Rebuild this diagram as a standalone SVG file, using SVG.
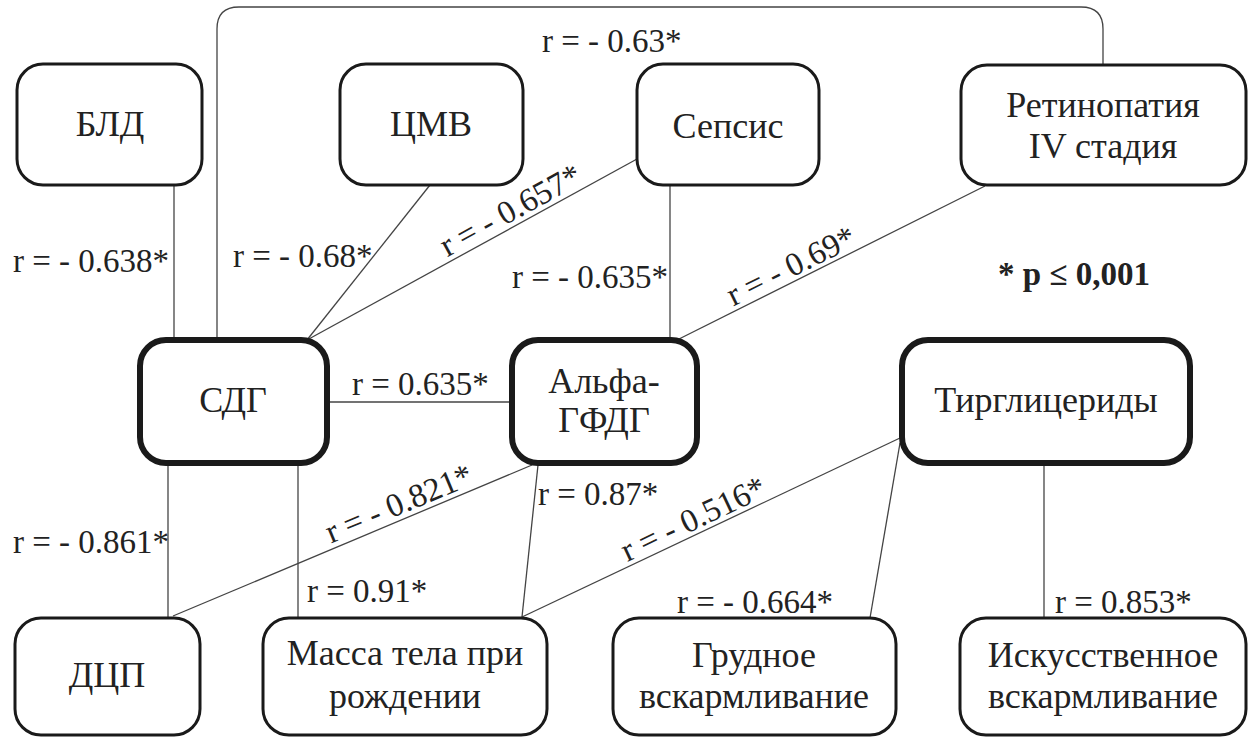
<svg xmlns="http://www.w3.org/2000/svg" width="1251" height="738" viewBox="0 0 1251 738">
<rect width="1251" height="738" fill="#fff"/>
<g id="connectors" stroke="#444" stroke-width="1.3" fill="none">
<path d="M217,340 V29 Q217,7 239,7 H1081 Q1103,7 1103,29 V65"/>
<line x1="174" y1="185" x2="174" y2="340"/>
<line x1="430" y1="185" x2="307" y2="340"/>
<line x1="637" y1="159" x2="307" y2="340"/>
<line x1="670" y1="185" x2="670" y2="340"/>
<line x1="677" y1="340" x2="985" y2="186"/>
<line x1="327" y1="402" x2="512" y2="402"/>
<line x1="168" y1="463" x2="168" y2="618"/>
<line x1="298" y1="463" x2="298" y2="618"/>
<line x1="173" y1="616" x2="532" y2="465"/>
<line x1="538" y1="465" x2="522" y2="617"/>
<line x1="522" y1="617" x2="900" y2="438"/>
<line x1="900" y1="443" x2="870" y2="618"/>
<line x1="1044" y1="463" x2="1044" y2="618"/>
</g>
<g id="labels">
<text x="542" y="52" font-family="Liberation Serif" font-size="33" fill="#222">r = - 0.63*</text>
<text x="13" y="272" font-family="Liberation Serif" font-size="33" fill="#222">r = - 0.638*</text>
<text x="233" y="267" font-family="Liberation Serif" font-size="33" fill="#222">r = - 0.68*</text>
<text x="512" y="288" font-family="Liberation Serif" font-size="33" fill="#222">r = - 0.635*</text>
<text x="352" y="395" font-family="Liberation Serif" font-size="33" fill="#222">r = 0.635*</text>
<text x="13" y="553" font-family="Liberation Serif" font-size="33" fill="#222">r = - 0.861*</text>
<text x="307" y="602" font-family="Liberation Serif" font-size="33" fill="#222">r = 0.91*</text>
<text x="538" y="505" font-family="Liberation Serif" font-size="33" fill="#222">r = 0.87*</text>
<text x="677" y="613" font-family="Liberation Serif" font-size="33" fill="#222">r = - 0.664*</text>
<text x="1055" y="613" font-family="Liberation Serif" font-size="33" fill="#222">r = 0.853*</text>
<text y="-5" transform="translate(518,224) rotate(-28.76)" font-family="Liberation Serif" font-size="33" fill="#222" text-anchor="middle">r = - 0.657*</text>
<text y="-5" transform="translate(405,518) rotate(-22.68)" font-family="Liberation Serif" font-size="33" fill="#222" text-anchor="middle">r = - 0.821*</text>
<text y="-5" transform="translate(798,280) rotate(-26.27)" font-family="Liberation Serif" font-size="33" fill="#222" text-anchor="middle">r = - 0.69*</text>
<text y="-5" transform="translate(700,533) rotate(-25.34)" font-family="Liberation Serif" font-size="33" fill="#222" text-anchor="middle">r = - 0.516*</text>
<text x="998" y="285" font-family="Liberation Serif" font-size="33" font-weight="bold" fill="#222">* p ≤ 0,001</text>
</g>
<g id="n-bld"><rect x="17" y="64" width="185" height="121" rx="26" fill="#fff" stroke="#1a1a1a" stroke-width="3"/><text x="110" y="136" font-family="Liberation Serif" font-size="36" fill="#222" text-anchor="middle">БЛД</text></g>
<g id="n-cmv"><rect x="340" y="64" width="183" height="121" rx="26" fill="#fff" stroke="#1a1a1a" stroke-width="3"/><text x="431" y="136" font-family="Liberation Serif" font-size="36" fill="#222" text-anchor="middle">ЦМВ</text></g>
<g id="n-sepsis"><rect x="637" y="64" width="182" height="121" rx="26" fill="#fff" stroke="#1a1a1a" stroke-width="3"/><text x="728" y="138" font-family="Liberation Serif" font-size="36" fill="#222" text-anchor="middle">Сепсис</text></g>
<g id="n-retino"><rect x="961" y="65" width="285" height="120" rx="26" fill="#fff" stroke="#1a1a1a" stroke-width="3"/><text x="1103" y="117" font-family="Liberation Serif" font-size="36" fill="#222" text-anchor="middle">Ретинопатия</text><text x="1103" y="158" font-family="Liberation Serif" font-size="36" fill="#222" text-anchor="middle">IV стадия</text></g>
<g id="n-sdg"><rect x="140" y="340" width="187" height="123" rx="26" fill="#fff" stroke="#1a1a1a" stroke-width="6"/><text x="233" y="412" font-family="Liberation Serif" font-size="36" fill="#222" text-anchor="middle">СДГ</text></g>
<g id="n-alfa"><rect x="512" y="340" width="185" height="123" rx="26" fill="#fff" stroke="#1a1a1a" stroke-width="6"/><text x="604" y="393" font-family="Liberation Serif" font-size="36" fill="#222" text-anchor="middle">Альфа-</text><text x="604" y="432" font-family="Liberation Serif" font-size="36" fill="#222" text-anchor="middle">ГФДГ</text></g>
<g id="n-tirg"><rect x="902" y="340" width="288" height="123" rx="26" fill="#fff" stroke="#1a1a1a" stroke-width="6"/><text x="1046" y="412" font-family="Liberation Serif" font-size="36" fill="#222" text-anchor="middle">Тирглицериды</text></g>
<g id="n-dcp"><rect x="15" y="618" width="185" height="117" rx="26" fill="#fff" stroke="#1a1a1a" stroke-width="3"/><text x="107" y="687" font-family="Liberation Serif" font-size="36" fill="#222" text-anchor="middle">ДЦП</text></g>
<g id="n-massa"><rect x="263" y="618" width="284" height="117" rx="26" fill="#fff" stroke="#1a1a1a" stroke-width="3"/><text x="405" y="665" font-family="Liberation Serif" font-size="36" fill="#222" text-anchor="middle">Масса тела при</text><text x="405" y="708" font-family="Liberation Serif" font-size="36" fill="#222" text-anchor="middle">рождении</text></g>
<g id="n-grud"><rect x="613" y="618" width="283" height="117" rx="26" fill="#fff" stroke="#1a1a1a" stroke-width="3"/><text x="754" y="667" font-family="Liberation Serif" font-size="36" fill="#222" text-anchor="middle">Грудное</text><text x="754" y="708" font-family="Liberation Serif" font-size="36" fill="#222" text-anchor="middle">вскармливание</text></g>
<g id="n-isk"><rect x="960" y="618" width="286" height="117" rx="26" fill="#fff" stroke="#1a1a1a" stroke-width="3"/><text x="1103" y="667" font-family="Liberation Serif" font-size="36" fill="#222" text-anchor="middle">Искусственное</text><text x="1103" y="708" font-family="Liberation Serif" font-size="36" fill="#222" text-anchor="middle">вскармливание</text></g>
</svg>
